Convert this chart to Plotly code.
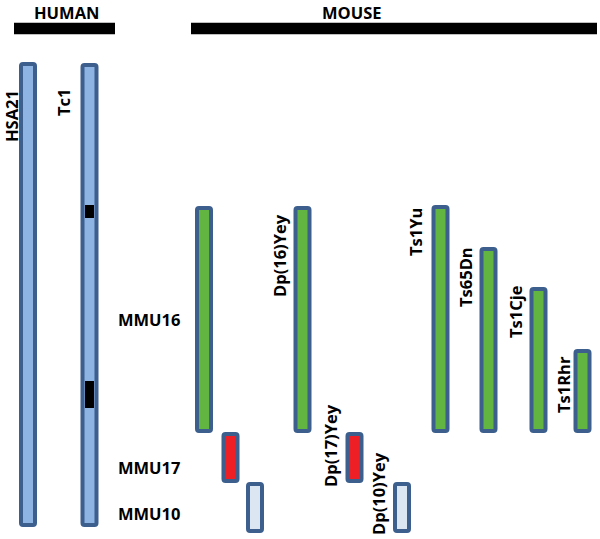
import plotly.graph_objects as go

# ---- data (diagram coordinates: lane centre and segment start/end) ----
chrom_names = ["HSA21", "Tc1", "MMU16 seg", "MMU17 seg", "MMU10 seg", "Dp(16)Yey", "Dp(17)Yey",
               "Dp(10)Yey", "Ts1Yu", "Ts65Dn", "Ts1Cje", "Ts1Rhr"]
chrom_lane = [28, 89.5, 204, 230.5, 255, 302.5, 354.5, 402, 440.5, 488.5, 538.5, 582.5]
chrom_start = [62, 63, 206, 432, 482, 206, 432, 482, 205, 247, 287, 349]
chrom_end = [527, 527, 433, 483, 533, 433, 483, 533, 433, 433, 433, 433]
chrom_kind = ["human", "human", "mmu16", "mmu17", "mmu10", "mmu16", "mmu17", "mmu10",
              "mmu16", "mmu16", "mmu16", "mmu16"]

band_lane = [89.5, 89.5]
band_start = [205, 381]
band_end = [218, 408]

group_names = ["HUMAN", "MOUSE"]
group_start = [14, 191]
group_end = [115, 597]
group_label_x = [66, 352]

rot_labels = ["HSA21", "Tc1", "Dp(16)Yey", "Dp(17)Yey", "Dp(10)Yey", "Ts1Yu", "Ts65Dn", "Ts1Cje", "Ts1Rhr"]
rot_x = [11, 63.5, 279, 330, 378, 415, 465, 515, 563]
rot_y = [116, 102.5, 256, 446, 494, 232, 277, 312, 385]

mmu_labels = ["MMU16", "MMU17", "MMU10"]
mmu_y = [319, 467, 513.5]

fill_map = {"human": "#8DB4E2", "mmu16": "#63B541", "mmu17": "#EE2026", "mmu10": "#DCE6F2"}
outline = "#3C5F8E"
LW = 4
W = 18

fig = go.Figure()
for kind in ["human", "mmu16", "mmu17", "mmu10"]:
    idx = [i for i, k in enumerate(chrom_kind) if k == kind]
    fig.add_trace(go.Bar(
        x=[chrom_lane[i] for i in idx],
        y=[chrom_end[i] - chrom_start[i] - LW for i in idx],
        base=[chrom_start[i] + LW / 2 for i in idx],
        width=W - LW,
        marker=dict(color=fill_map[kind], line=dict(color=outline, width=LW), cornerradius=2),
        hoverinfo="skip", showlegend=False))

fig.add_trace(go.Bar(
    x=band_lane, y=[e - s for s, e in zip(band_start, band_end)], base=band_start,
    width=9, marker=dict(color="black", line=dict(width=0)), hoverinfo="skip", showlegend=False))

fig.add_trace(go.Bar(
    y=[28.5, 28.5], x=[e - s for s, e in zip(group_start, group_end)], base=group_start,
    orientation="h", width=11.5, marker=dict(color="black", line=dict(width=0)),
    hoverinfo="skip", showlegend=False))

font = dict(family="Open Sans", size=16.5, color="black")
annots = []
for name, x in zip(group_names, group_label_x):
    annots.append(dict(x=x, y=1, yref="paper", text="<b>%s</b>" % name, borderpad=0,
                       showarrow=False, font=font, xanchor="center", yanchor="top"))
for t, x, y in zip(rot_labels, rot_x, rot_y):
    annots.append(dict(x=x, y=y, text="<b>%s</b>" % t, textangle=-90, showarrow=False,
                       font=font, xanchor="center", yanchor="middle", borderpad=0))
for t, y in zip(mmu_labels, mmu_y):
    annots.append(dict(x=149, y=y, text="<b>%s</b>" % t, showarrow=False, font=font,
                       xanchor="center", yanchor="middle"))

fig.update_layout(
    width=600, height=539, margin=dict(l=0, r=0, t=0, b=0),
    plot_bgcolor="white", paper_bgcolor="white", barmode="overlay",
    xaxis=dict(range=[0, 600], visible=False, fixedrange=True),
    yaxis=dict(range=[539, 0], visible=False, fixedrange=True),
    annotations=annots)

fig.write_html("out.html", config={"displayModeBar": False},
               post_script="document.body.style.margin='0';document.body.style.overflow='hidden';")
